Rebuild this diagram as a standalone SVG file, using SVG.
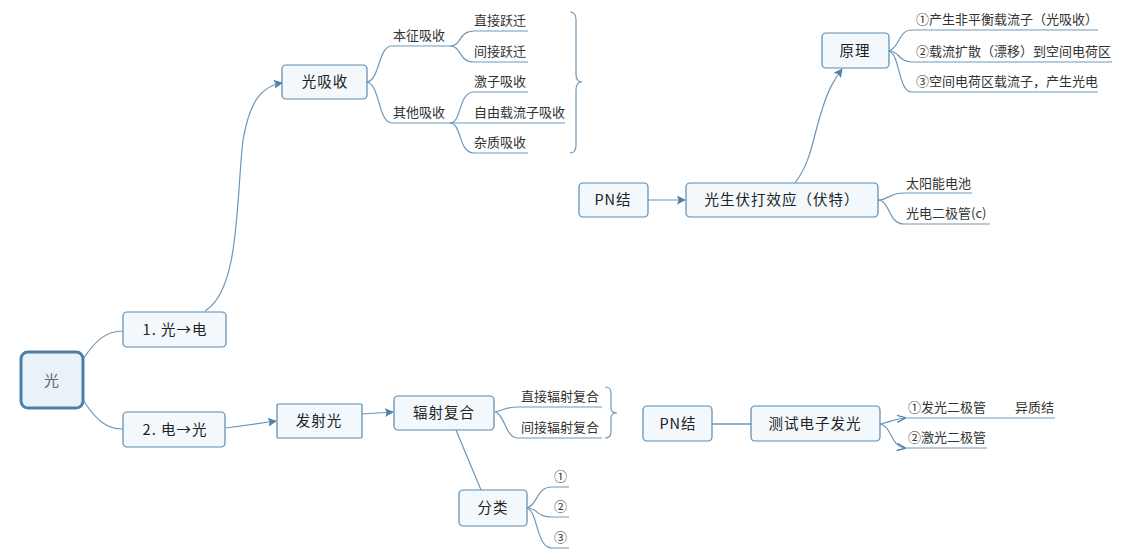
<svg xmlns="http://www.w3.org/2000/svg" width="1131" height="558" viewBox="0 0 1131 558">
<style>
.box{fill:#f3f8fd;stroke:#5b89ad;stroke-width:1.2}
.main{fill:#e9f1f9;stroke:#4f7fa6;stroke-width:3}
.ln{fill:none;stroke:#6e97b7;stroke-width:1.2}
.t{font-family:"Noto Sans CJK SC","Liberation Sans",sans-serif;fill:#333;font-size:13px}
.bt{font-family:"Noto Sans CJK SC","Liberation Sans",sans-serif;fill:#222;font-size:14.5px;text-anchor:middle;letter-spacing:1px}
</style>
<defs>
<marker id="ah" viewBox="0 0 10 10" refX="9" refY="5" markerWidth="9" markerHeight="9" markerUnits="userSpaceOnUse" orient="auto">
<path d="M0,0 L10,5 L0,10 L2,5 z" fill="#4f80a8"/>
</marker>
<marker id="oh" viewBox="0 0 10 10" refX="9" refY="5" markerWidth="9" markerHeight="9" markerUnits="userSpaceOnUse" orient="auto">
<path d="M0,1 L10,5 L0,9" fill="none" stroke="#4f80a8" stroke-width="1.5"/>
</marker>
</defs>
<g id="connectors">
<path class="ln" d="M83 359 C 96 340, 106 331, 123 331"/>
<path class="ln" d="M83 400 C 96 420, 106 429, 123 429"/>
<path class="ln" d="M205 311 C 240 290, 236 200, 243 140 C 250 100, 262 86, 282 83" marker-end="url(#ah)"/>
<path class="ln" d="M367 82 C 380 80, 378 46, 392 46 H 450"/>
<path class="ln" d="M367 82 C 380 84, 378 123, 392 123 H 450"/>
<path class="ln" d="M450 46 C 462 46, 458 31, 474 31 H 528"/>
<path class="ln" d="M450 46 C 462 46, 458 62, 474 62 H 528"/>
<path class="ln" d="M450 123 C 462 123, 458 92, 474 92 H 528"/>
<path class="ln" d="M450 123 H 565"/>
<path class="ln" d="M450 123 C 462 123, 458 153, 474 153 H 528"/>
<path class="ln" d="M570 12 Q 576 12, 576 20 V 74 Q 576 82, 582 82 Q 576 82, 576 90 V 145 Q 576 153, 570 153"/>
<path class="ln" d="M648 200 H 685" marker-end="url(#ah)"/>
<path class="ln" d="M795 183 C 812 160, 812 140, 822 110 C 828 90, 834 80, 842 69" marker-end="url(#ah)"/>
<path class="ln" d="M889 51 C 900 48, 898 30, 912 30 H 1098"/>
<path class="ln" d="M889 51 C 900 51, 898 62, 912 62 H 1112"/>
<path class="ln" d="M889 51 C 900 54, 898 92, 912 92 H 1098"/>
<path class="ln" d="M878 200 C 890 200, 888 193, 904 193 H 972"/>
<path class="ln" d="M878 200 C 890 200, 888 224, 904 224 H 990"/>
<path class="ln" d="M226 428 L 276 421" marker-end="url(#ah)"/>
<path class="ln" d="M362 414 L 393 412" marker-end="url(#ah)"/>
<path class="ln" d="M495 412 C 505 410, 505 407, 518 407 H 602"/>
<path class="ln" d="M495 412 C 505 414, 505 438, 518 438 H 602"/>
<path class="ln" d="M605 387 Q 611 387, 611 393 V 408 Q 611 413, 617 413 Q 611 413, 611 418 V 432 Q 611 438, 605 438"/>
<path class="ln" d="M456 430 L 481 490"/>
<path class="ln" d="M527 508 C 538 505, 536 487, 552 487 H 569"/>
<path class="ln" d="M527 508 C 538 508, 536 517, 552 517 H 569"/>
<path class="ln" d="M527 508 C 538 511, 536 548, 552 548 H 569"/>
<path class="ln" d="M712 424 H 751" style="stroke-width:2;stroke:#8fb0ca"/>
<path class="ln" d="M880 424 C 890 422, 895 419, 905 418" marker-end="url(#oh)"/>
<path class="ln" d="M905 418 H 1055"/>
<path class="ln" d="M880 424 C 892 426, 890 446, 905 448" marker-end="url(#oh)"/>
<path class="ln" d="M905 448 H 987"/>
</g>
<g id="n-guang"><rect class="main" x="21" y="352" width="62" height="56" rx="7"/><text x="52" y="386" class="bt" style="fill:#666;font-size:15px">光</text></g>
<g id="n-g2d"><rect class="box" x="123" y="312" width="103" height="35" rx="4"/><text x="175" y="335" class="bt">1. 光→电</text></g>
<g id="n-d2g"><rect class="box" x="123" y="412" width="102" height="35" rx="4"/><text x="175" y="435" class="bt">2. 电→光</text></g>
<g id="n-gxs"><rect class="box" x="282" y="65" width="85" height="34" rx="4"/><text x="325" y="87" class="bt">光吸收</text></g>
<g id="n-bzxs"><text x="393" y="40" class="t">本征吸收</text></g>
<g id="n-qtxs"><text x="393" y="117" class="t">其他吸收</text></g>
<g id="n-zjyq"><text x="474" y="25" class="t">直接跃迁</text></g>
<g id="n-jjyq"><text x="474" y="56" class="t">间接跃迁</text></g>
<g id="n-jzxs"><text x="474" y="86" class="t">激子吸收</text></g>
<g id="n-zyzl"><text x="474" y="117" class="t">自由载流子吸收</text></g>
<g id="n-zzxs"><text x="474" y="147" class="t">杂质吸收</text></g>
<g id="n-pn1"><rect class="box" x="579" y="183" width="69" height="34" rx="4"/><text x="613" y="205" class="bt">PN结</text></g>
<g id="n-gsfd"><rect class="box" x="686" y="183" width="192" height="34" rx="4"/><text x="782" y="205" class="bt">光生伏打效应（伏特）</text></g>
<g id="n-yl"><rect class="box" x="822" y="33" width="67" height="35" rx="4"/><text x="855" y="56" class="bt">原理</text></g>
<g id="n-yl1"><text x="916" y="24" class="t">①产生非平衡载流子（光吸收）</text></g>
<g id="n-yl2"><text x="916" y="56" class="t">②载流扩散（漂移）到空间电荷区</text></g>
<g id="n-yl3"><text x="916" y="86" class="t">③空间电荷区载流子，产生光电</text></g>
<g id="n-tyn"><text x="906" y="188" class="t">太阳能电池</text></g>
<g id="n-gdejg"><text x="906" y="218" class="t">光电二极管(c)</text></g>
<g id="n-fsg"><rect class="box" x="277" y="404" width="85" height="34" rx="1"/><text x="319" y="426" class="bt">发射光</text></g>
<g id="n-fsfh"><rect class="box" x="394" y="396" width="100" height="34" rx="4"/><text x="444" y="418" class="bt">辐射复合</text></g>
<g id="n-zjfs"><text x="521" y="401" class="t">直接辐射复合</text></g>
<g id="n-jjfs"><text x="521" y="432" class="t">间接辐射复合</text></g>
<g id="n-fl"><rect class="box" x="459" y="490" width="68" height="36" rx="4"/><text x="493" y="513" class="bt">分类</text></g>
<g id="n-fl1"><text x="554" y="481" class="t">①</text></g>
<g id="n-fl2"><text x="554" y="511" class="t">②</text></g>
<g id="n-fl3"><text x="554" y="542" class="t">③</text></g>
<g id="n-pn2"><rect class="box" x="643" y="406" width="69" height="35" rx="4"/><text x="678" y="429" class="bt">PN结</text></g>
<g id="n-csdz"><rect class="box" x="751" y="406" width="129" height="35" rx="4"/><text x="815" y="429" class="bt">测试电子发光</text></g>
<g id="n-fgejg"><text x="908" y="412" class="t">①发光二极管</text></g>
<g id="n-yzj"><text x="1015" y="412" class="t">异质结</text></g>
<g id="n-jgejg"><text x="908" y="442" class="t">②激光二极管</text></g>
</svg>
